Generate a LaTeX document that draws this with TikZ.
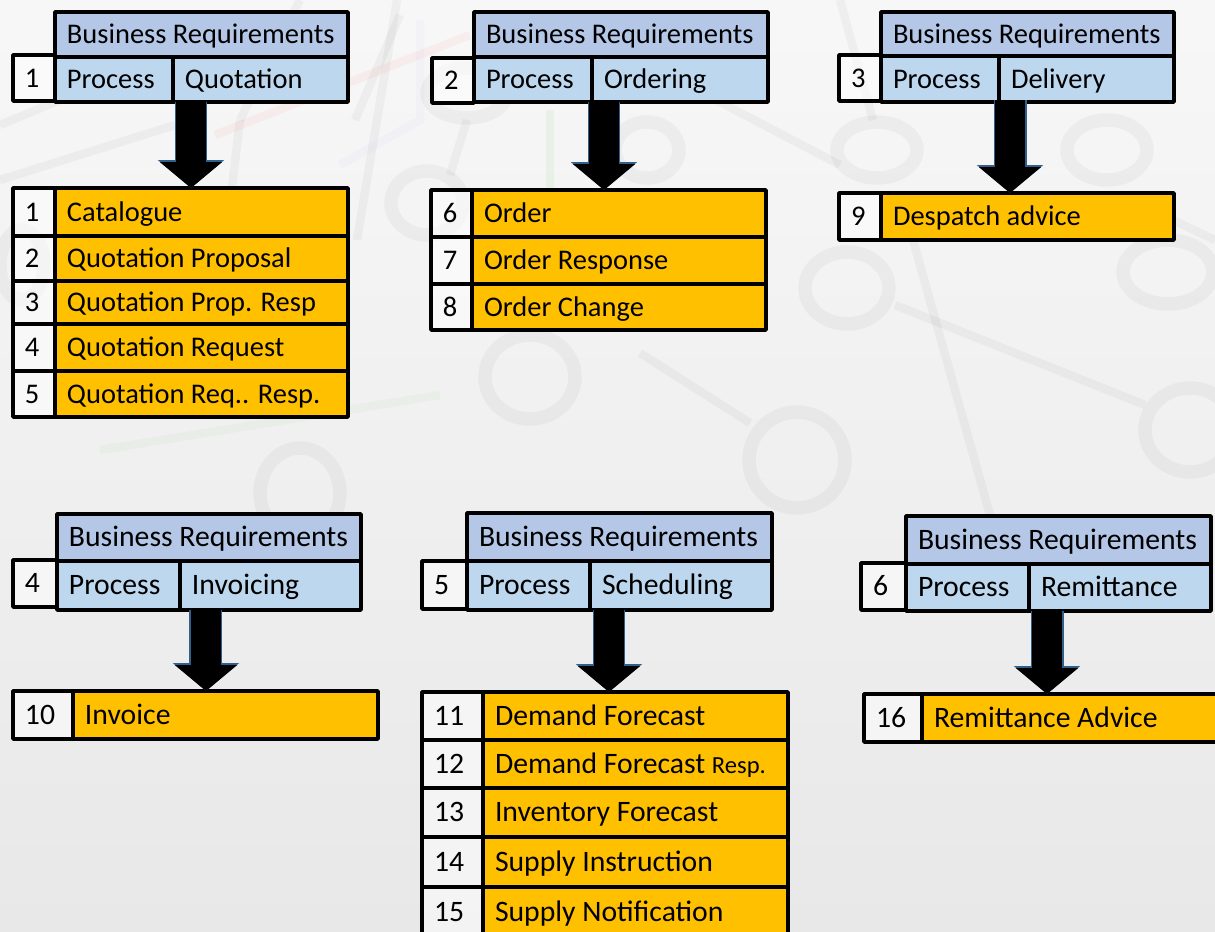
\documentclass[tikz,border=0pt]{standalone}
\usepackage{fontspec}
\setmainfont{Carlito}
\usetikzlibrary{arrows.meta}
\definecolor{headblue}{HTML}{B4C7E7}
\definecolor{rowblue}{HTML}{BDD7EE}
\definecolor{itemorange}{HTML}{FFC000}
\definecolor{arrowedge}{HTML}{2F5F8A}
\newcommand{\cellfont}{\fontsize{16.2}{19}\selectfont}
\tikzset{
  cellsize/.style 2 args={text width=#1*0.02cm-0.48cm, minimum height=#2*0.02cm},
  cellbox/.style={draw=black, line width=0.07cm, line join=round, anchor=north west,
    outer sep=0pt, inner xsep=0.24cm, inner ysep=0pt, align=flush left,
    text height=14.3pt, text depth=3.5pt, font=\cellfont},
  headcell/.style={cellbox, fill=headblue},
  rowcell/.style={cellbox, fill=rowblue},
  itemcell/.style={cellbox, fill=itemorange},
  numcell/.style={cellbox, fill=white, fill opacity=.5, text opacity=1},
  bigarrow/.style={
    preaction={draw=arrowedge, line width=0.66cm, -{Triangle[length=0.56cm,width=1.3cm]}},
    draw=black, line width=0.6cm, -{Triangle[length=0.52cm,width=1.22cm]}},
  ring/.style={draw=black, draw opacity=.035, line width=0.27cm},
  track/.style={draw=black, draw opacity=.035, line width=0.17cm},
}
\begin{document}
\begin{tikzpicture}[x=0.02cm,y=-0.02cm]
\useasboundingbox (0,0) rectangle (1215,932);
\clip (0,0) rectangle (1215,932);
% Background
\shade[top color=black!3, middle color=black!5, bottom color=black!9] (0,0) rectangle (1215,932);
\foreach \x/\y/\rx/\ry in {877/150/40/28, 1107/150/40/30, 847/288/42/36, 1168/272/45/32,
    1190/430/45/42, 797/460/48/48, 647/150/32/28, 427/203/36/32, 530/377/45/42,
    467/93/40/25, 300/493/40/45, 22/265/22/35} {
    \draw[ring] (\x,\y) ellipse ({\rx} and {\ry});
}
\foreach \xa/\ya/\xb/\yb in {840/0/873/120, 913/240/990/515, 895/305/1145/405, 640/353/750/423,
    397/0/357/240, 467/120/450/175, 0/125/60/100, 0/180/175/125, 240/120/232/187,
    400/15/355/120, 716/100/840/165, 1120/195/1215/240, 300/0/240/120} {
    \draw[track] (\xa,\ya) -- (\xb,\yb);
}
\draw[track,draw=red,draw opacity=.04] (215,135) -- (470,35);
\draw[track,draw=blue,draw opacity=.02] (420,20) -- (420,120) -- (340,165);
\draw[track,draw=green!60!black,draw opacity=.05] (550,110) -- (550,190);
\draw[track,draw=green!60!black,draw opacity=.03] (100,450) -- (440,395);

% Panel 1
\node[headcell,cellsize={293}{45}] (head1) at (55,12) {Business Requirements};
\node[numcell,cellsize={42}{46}] (pnum1) at (13,55) {1};
\node[rowcell,cellsize={118}{45}] (proc1) at (55,57) {Process};
\node[rowcell,cellsize={175}{45}] (val1) at (173,57) {Quotation};
\foreach \y/\h/\n/\txt in {188/48/1/Catalogue, 236/45/2/Quotation Proposal,
    281/43/3/Quotation Prop. Resp, 324/47/4/Quotation Request, 371/46/5/Quotation Req.. Resp.} {
    \node[numcell,cellsize={42}{\h}] (num\n) at (13,\y) {\n};
    \node[itemcell,cellsize={293}{\h}] (item\n) at (55,\y) {\txt};
}

% Panel 2
\node[headcell,cellsize={294}{45}] (head2) at (474,12) {Business Requirements};
\node[numcell,cellsize={42}{45}] (pnum2) at (432,58) {2};
\node[rowcell,cellsize={118}{45}] (proc2) at (474,57) {Process};
\node[rowcell,cellsize={176}{45}] (val2) at (592,57) {Ordering};
\foreach \y/\h/\n/\txt in {190/47/6/Order, 237/47/7/Order Response, 284/46/8/Order Change} {
    \node[numcell,cellsize={41}{\h}] (num\n) at (431,\y) {\n};
    \node[itemcell,cellsize={294}{\h}] (item\n) at (472,\y) {\txt};
}

% Panel 3
\node[headcell,cellsize={293}{44}] (head3) at (881,12) {Business Requirements};
\node[numcell,cellsize={42}{46}] (pnum3) at (839,55) {3};
\node[rowcell,cellsize={118}{46}] (proc3) at (881,56) {Process};
\node[rowcell,cellsize={175}{46}] (val3) at (999,56) {Delivery};
\node[numcell,cellsize={42}{47}] (num9) at (839,193) {9};
\node[itemcell,cellsize={293}{47}] (item9) at (881,193) {Despatch advice};

% Lower panels are set a little larger
\renewcommand{\cellfont}{\fontsize{16.9}{20}\selectfont}

% Panel 4
\node[headcell,cellsize={304}{47}] (head4) at (57,514) {Business Requirements};
\node[numcell,cellsize={44}{47}] (pnum4) at (13,560) {4};
\node[rowcell,cellsize={123}{49}] (proc4) at (57,561) {Process};
\node[rowcell,cellsize={181}{49}] (val4) at (180,561) {Invoicing};
\node[numcell,cellsize={60}{48}] (num10) at (13,691) {10};
\node[itemcell,cellsize={305}{48}] (item10) at (73,691) {Invoice};

% Panel 5
\node[headcell,cellsize={305}{48}] (head5) at (467,513) {Business Requirements};
\node[numcell,cellsize={45}{48}] (pnum5) at (422,561) {5};
\node[rowcell,cellsize={123}{49}] (proc5) at (467,561) {Process};
\node[rowcell,cellsize={182}{49}] (val5) at (590,561) {Scheduling};
\foreach \y/\h/\n/\txt in {692/48/11/Demand Forecast, 740/48/12/Demand Forecast {\fontsize{14}{16}\selectfont Resp.},
    788/49/13/Inventory Forecast, 837/50/14/Supply Instruction, 887/50/15/Supply Notification} {
    \node[numcell,cellsize={61}{\h}] (num\n) at (422,\y) {\n};
    \node[itemcell,cellsize={305}{\h}] (item\n) at (483,\y) {\txt};
}

% Panel 6
\node[headcell,cellsize={305}{48}] (head6) at (906,516) {Business Requirements};
\node[numcell,cellsize={45}{47}] (pnum6) at (861,563) {6};
\node[rowcell,cellsize={123}{47}] (proc6) at (906,564) {Process};
\node[rowcell,cellsize={182}{47}] (val6) at (1029,564) {Remittance};
\node[numcell,cellsize={58}{48}] (num16) at (864,694) {16};
\node[itemcell,cellsize={310}{48}] (item16) at (922,694) {Remittance Advice};

% Arrows
\draw[bigarrow] ([xshift=0.36cm]val1.south west) -- ([xshift=0.36cm]val1.south west |- item1.north);
\draw[bigarrow] ([xshift=0.24cm]val2.south west) -- ([xshift=0.24cm]val2.south west |- item6.north);
\draw[bigarrow] ([xshift=0.22cm,yshift=0.04cm]val3.south west) -- ([xshift=0.22cm]val3.south west |- item9.north);
\draw[bigarrow] ([xshift=0.52cm]val4.south west) -- ([xshift=0.52cm]val4.south west |- item10.north);
\draw[bigarrow] ([xshift=0.38cm]val5.south west) -- ([xshift=0.38cm]val5.south west |- item11.north);
\draw[bigarrow] ([xshift=0.36cm]val6.south west) -- ([xshift=0.36cm]val6.south west |- item16.north);
\end{tikzpicture}
\end{document}
